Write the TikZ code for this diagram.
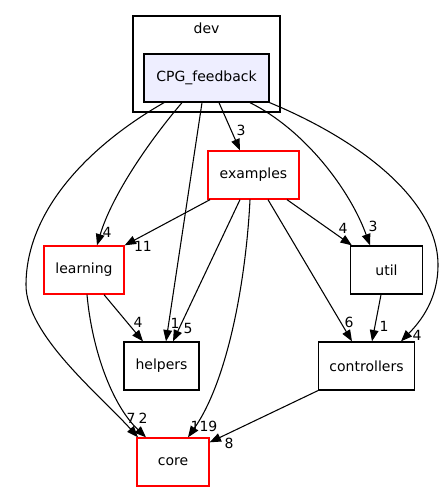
\documentclass[tikz,border=0pt]{standalone}
\usepackage{fontspec}
\setmainfont{DejaVu Sans}
\usepackage{tikz}
\usetikzlibrary{arrows.meta,calc,positioning}
\definecolor{lavendel}{HTML}{EEEEFF}

\begin{document}
\begin{tikzpicture}[x=0.75pt,y=-0.75pt,
  every node/.style={font=\fontsize{10.5}{12}\selectfont},
  ordner/.style={draw=black,line width=1pt,minimum height=36pt,inner sep=0pt},
  rotordner/.style={ordner,draw=red},
  dep/.style={line width=0.8pt,-{Triangle[length=8.5pt,width=6.5pt]}},
  zahl/.style={inner sep=0pt}]
\useasboundingbox (0,0) rectangle (448,503);
%Rahmen fuer dev
\draw[line width=1pt] (133,16) rectangle (280,112);
\node (dev) at (206.5,28) {dev};
%Ordner
\node[ordner,fill=lavendel,minimum width=93.75pt] (cpg) at (206.5,78) {CPG\_feedback};
\node[rotordner,minimum width=68.25pt] (examples) at (253.5,175) {examples};
\node[rotordner,minimum width=60pt] (learning) at (84,270) {learning};
\node[ordner,minimum width=54pt] (util) at (386.5,270) {util};
\node[ordner,minimum width=56.25pt] (helpers) at (161.5,366) {helpers};
\node[ordner,minimum width=72pt] (controllers) at (366.5,366) {controllers};
\node[rotordner,minimum width=54pt] (core) at (173,462) {core};
%Abhaengigkeiten von CPG_feedback
\draw[dep] ([shift={(-42.5,0)}]cpg.south) .. controls (90,145) and (26,210) .. (26,285) .. controls (26,335) and (100,395) .. ([shift={(-35,0)}]core.north) node[zahl] at (131,418) {7};
\draw[dep] ([shift={(-24.5,0)}]cpg.south) .. controls (150,140) and (112,195) .. ([shift={(13,0)}]learning.north) node[zahl] at (107,232) {4};
\draw[dep] ([shift={(-4.5,0)}]cpg.south) -- ([shift={(4.5,0)}]helpers.north) node[zahl] at (175,323) {1};
\draw[dep] ([shift={(12.5,0)}]cpg.south) -- ([shift={(-13.5,0)}]examples.north) node[zahl] at (241,130) {3};
\draw[dep] ([shift={(43.5,0)}]cpg.south) .. controls (305,130) and (350,190) .. ([shift={(-16.5,0)}]util.north) node[zahl] at (373,226) {3};
\draw[dep] (cpg.south east) .. controls (360,140) and (438,200) .. (438,265) .. controls (438,300) and (420,322) .. ([shift={(34.5,0)}]controllers.north) node[zahl] at (417,335) {4};
%Abhaengigkeiten von examples
\draw[dep] ([shift={(-43.5,0)}]examples.south) -- (learning.north east) node[zahl] at (143,246) {11};
\draw[dep] ([shift={(-13.5,0)}]examples.south) -- ([shift={(11.5,0)}]helpers.north) node[zahl] at (188,328) {5};
\draw[dep] ([shift={(-3.5,0)}]examples.south) .. controls (246,280) and (228,380) .. ([shift={(15,0)}]core.north) node[zahl] at (204,426) {119};
\draw[dep] ([shift={(14.5,0)}]examples.south) -- ([shift={(-14.5,0)}]controllers.north) node[zahl] at (349,322) {6};
\draw[dep] ([shift={(33.5,0)}]examples.south) -- ([shift={(2,0)}]util.north west) node[zahl] at (343,228) {4};
%Rest
\draw[dep] ([shift={(20,0)}]learning.south) -- ([shift={(-18.5,0)}]helpers.north) node[zahl] at (138,322) {4};
\draw[dep] ([shift={(3,0)}]learning.south) .. controls (92,350) and (112,405) .. ([shift={(-27,0)}]core.north) node[zahl] at (143,418) {2};
\draw[dep] ([shift={(-5.5,0)}]util.south) -- ([shift={(5.5,0)}]controllers.north) node[zahl] at (384,326) {1};
\draw[dep] (controllers.south west) -- ([shift={(0,5)}]core.north east) node[zahl] at (229,443) {8};
\end{tikzpicture}
\end{document}
